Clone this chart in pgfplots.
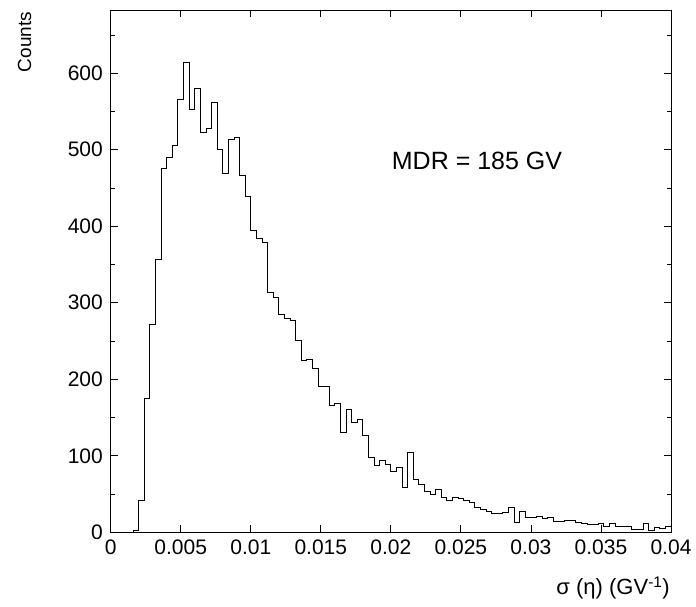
\documentclass[border=0pt]{standalone}
\usepackage{fontspec}
\setmainfont{Liberation Sans}
\usepackage{pgfplots}
\usepackage{pgfplotstable}
\pgfplotsset{compat=1.18}
\pgfplotstableread{
x y
0 0
0.0004 0
0.0008 0
0.0012 0
0.0016 2
0.0020 41
0.0024 175
0.0028 272
0.0032 356
0.0036 476
0.0040 490
0.0044 505
0.0048 566
0.0052 614
0.0056 553
0.0060 580
0.0064 522
0.0068 528
0.0072 562
0.0076 500
0.0080 469
0.0084 513
0.0088 516
0.0092 466
0.0096 439
0.0100 395
0.0104 384
0.0108 379
0.0112 314
0.0116 307
0.0120 285
0.0124 280
0.0128 277
0.0132 251
0.0136 225
0.0140 226
0.0144 214
0.0148 191
0.0152 190
0.0156 166
0.0160 168
0.0164 130
0.0168 160
0.0172 143
0.0176 147
0.0180 126
0.0184 98
0.0188 87
0.0192 94
0.0196 89
0.0200 79
0.0204 85
0.0208 58
0.0212 104
0.0216 69
0.0220 62
0.0224 53
0.0228 50
0.0232 56
0.0236 45
0.0240 41
0.0244 46
0.0248 44
0.0252 42
0.0256 39
0.0260 32
0.0264 30
0.0268 27
0.0272 25
0.0276 24
0.0280 26
0.0284 32
0.0288 13
0.0292 27
0.0296 19
0.0300 20
0.0304 21
0.0308 18
0.0312 19
0.0316 14
0.0320 14
0.0324 16
0.0328 16
0.0332 13
0.0336 12
0.0340 10
0.0344 10
0.0348 11
0.0352 8
0.0356 12
0.0360 7
0.0364 7
0.0368 7
0.0372 4
0.0376 4
0.0380 11
0.0384 2
0.0388 6
0.0392 5
0.0396 8
0.0400 8
}\histdata
\begin{document}
\begin{tikzpicture}[x=1pt,y=1pt]
\useasboundingbox (0,0) rectangle (696,607);
\begin{axis}[
  at={(110.7pt,74.7pt)}, anchor=south west,
  scale only axis, width=560.3pt, height=522.3pt,
  xmin=0, xmax=0.04, ymin=0, ymax=682.6,
  xtick={0,0.005,0.01,0.015,0.02,0.025,0.03,0.035,0.04},
  xticklabels={0,0.005,0.01,0.015,0.02,0.025,0.03,0.035,0.04},
  ytick={0,100,200,300,400,500,600},
  minor ytick={50,150,250,350,450,550,650},
  tick align=inside, tick pos=both,
  major tick length=7.3pt, minor tick length=4pt,
  tick style={black, line width=0.8pt},
  axis line style={black, line width=0.8pt},
  /pgf/number format/assume math mode=true,
  ticklabel style={font=\fontsize{21}{21}\selectfont},
  xticklabel style={inner sep=0pt, anchor=north, yshift=-7.7pt},
  yticklabel style={inner sep=0pt, anchor=east, xshift=-7.7pt},
  scaled x ticks=false,
  clip=false,
]
\addplot[const plot mark left, black, line width=0.9pt] table[x=x, y=y] {\histdata};
\end{axis}
\node[rotate=90, anchor=east, inner sep=0pt, font=\fontsize{19}{19}\selectfont] at (24.5,595.3) {Counts};
\node[anchor=base east, inner sep=0pt, font=\fontsize{22}{22}\selectfont] at (670,12) {σ (η) (GV\textsuperscript{-1})};
\node[anchor=base west, inner sep=0pt, font=\fontsize{25}{25}\selectfont] at (391.7,437.7) {MDR = 185 GV};
\end{tikzpicture}
\end{document}
